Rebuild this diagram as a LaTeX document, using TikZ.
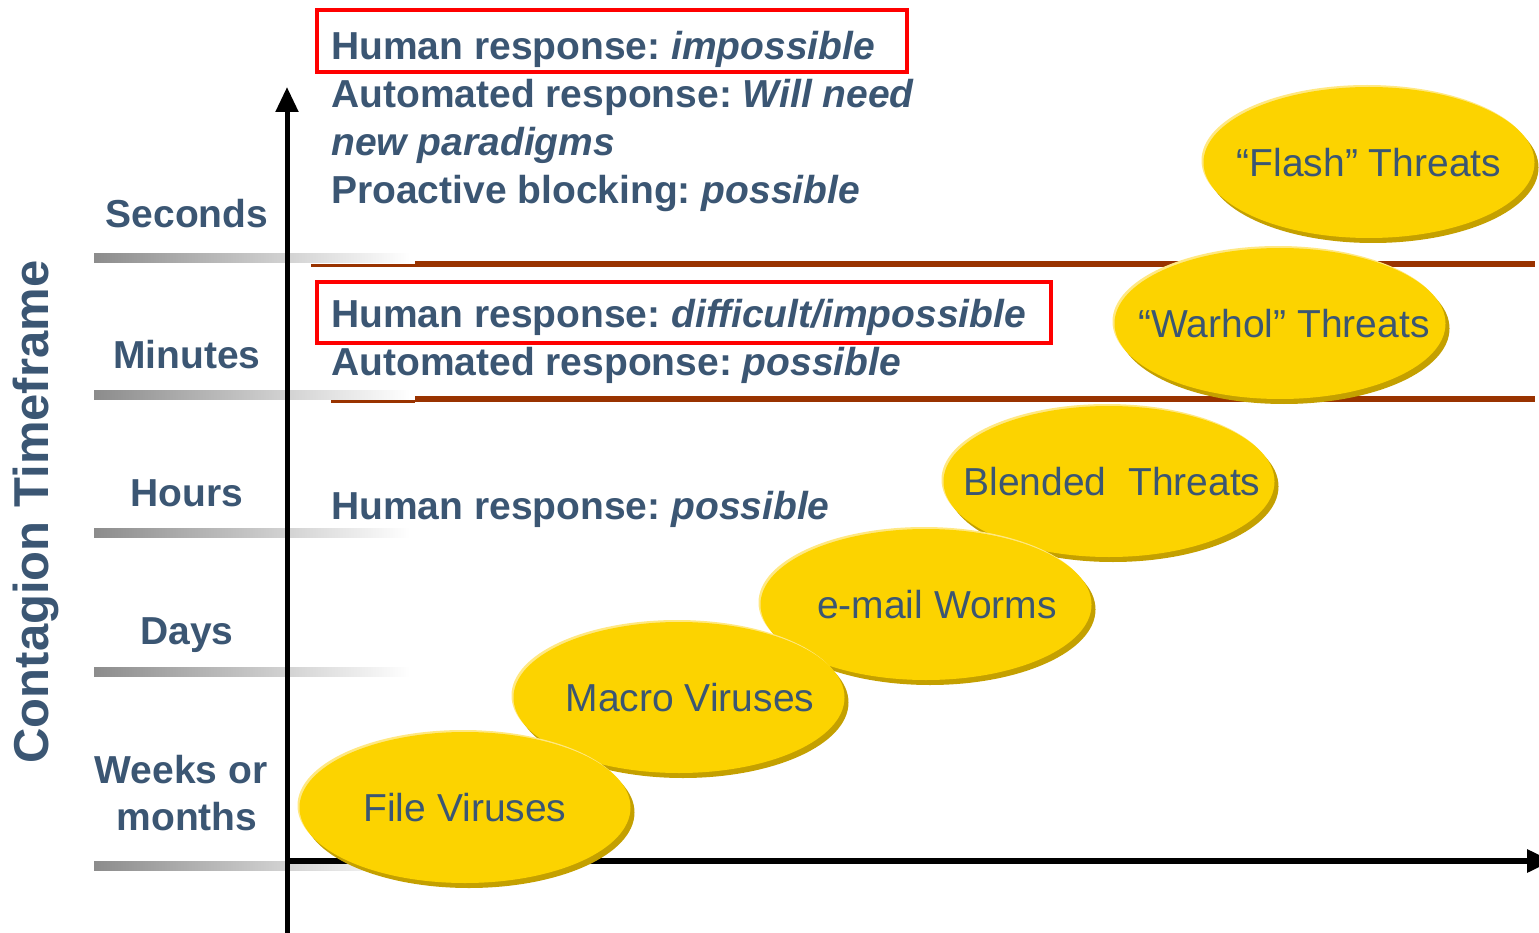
\documentclass[tikz,border=0pt]{standalone}
\usepackage{fontspec}
\setmainfont{Liberation Sans}
\usetikzlibrary{shapes.geometric,arrows.meta}
\definecolor{txtblue}{RGB}{59,86,115}
\definecolor{goldfill}{RGB}{252,211,0}
\definecolor{goldrim}{RGB}{196,160,0}
\definecolor{goldhalo}{RGB}{255,232,130}
\definecolor{brownline}{RGB}{153,51,0}
\definecolor{greyline}{RGB}{140,140,140}
\tikzset{
  threat/.style={ellipse, minimum width=331, minimum height=151, inner sep=0pt,
    fill=goldfill, text=txtblue, font=\fontsize{39}{46}\selectfont,
    preaction={fill=goldhalo, transform canvas={shift={(-2pt,2pt)}}},
    preaction={fill=goldrim, transform canvas={shift={(4pt,-5pt)}}}},
  rowlabel/.style={anchor=base, inner sep=0pt, text=txtblue, font=\fontsize{39}{46}\selectfont\bfseries},
  infotext/.style={anchor=base west, inner sep=0pt, text=txtblue, font=\fontsize{39}{46}\selectfont\bfseries},
  redbox/.style={draw=red, line width=4pt, inner sep=0pt},
  axisline/.style={line width=5pt, -{Triangle[length=25pt,width=22pt]}},
  brownrule/.style={draw=brownline, line width=6pt},
}
\newcommand\shiftedlabel[2]{\makebox[0pt]{\hspace*{#1}#2}}
\begin{document}
\frenchspacing
\begin{tikzpicture}[x=1pt,y=1pt]
\useasboundingbox (0,0) rectangle (1539,-933);

% grey gradient rules
\foreach \yy in {258,395,533,672,866}{
  \shade[left color=greyline, right color=white] (94,-\yy+4.5) rectangle (410,-\yy-4.5);
}

% brown rules
\draw[brownrule, line width=3pt] (311,-266) -- (415,-266);
\draw[brownrule] (415,-264) -- (1535,-264);
\draw[brownrule, line width=3pt] (331,-401) -- (415,-401);
\draw[brownrule] (415,-399) -- (1535,-399);

% axes
\coordinate (ybot) at (287,-933);
\coordinate (ytop) at (287,-87);
\coordinate (xstart) at (287,-861);
\coordinate (xend) at (1552,-861);
\draw[axisline] (ybot) -- (ytop);
\draw[axisline, line width=6pt] (xstart) -- (xend);

% y-axis title
\node[rotate=90, inner sep=0pt, text=txtblue, font=\fontsize{49}{56}\selectfont\bfseries] (title) at (36,-512) {Contagion Timeframe};

% row labels
\node[rowlabel] (sec) at (187,-228) {Seconds};
\node[rowlabel] (min) at (187,-368) {Minutes};
\node[rowlabel] (hrs) at (187,-506) {Hours};
\node[rowlabel] (days) at (187,-644) {Days};
\node[rowlabel] (weeks) at (181,-783) {Weeks or};
\node[rowlabel] (months) at (187,-830) {months};

% info texts
\node[infotext] (t1) at (331,-60) {Human response: \textit{impossible}};
\node[infotext] (t2) at (331,-108) {Automated response: \textit{Will need}};
\node[infotext] (t3) at (331,-156) {\textit{new paradigms}};
\node[infotext] (t4) at (331,-204) {Proactive blocking: \textit{possible}};
\node[infotext] (t5) at (331,-327) {Human response: \textit{difficult/impossible}};
\node[infotext] (t6) at (331,-375) {Automated response: \textit{possible}};
\node[infotext] (t7) at (331,-519) {Human response: \textit{possible}};

% red boxes
\node[redbox, minimum width=590, minimum height=62] (box1) at (612,-41) {};
\node[redbox, minimum width=734, minimum height=61] (box2) at (684,-312.5) {};

% threat ellipses (top to bottom, lower ones on top)
\node[threat] (flash) at (1369,-162.5) {\shiftedlabel{0pt}{``Flash'' Threats}};
\node[threat] (warhol) at (1280,-323.5) {\shiftedlabel{8pt}{``Warhol'' Threats}};
\node[threat] (blended) at (1109,-481.5) {\shiftedlabel{6pt}{Blended\ \ Threats}};
\node[threat] (email) at (926,-604.5) {\shiftedlabel{22pt}{e-mail Worms}};
\node[threat] (macro) at (679,-697.5) {\shiftedlabel{22pt}{Macro Viruses}};
\node[threat] (file) at (465,-807.5) {\shiftedlabel{0pt}{File Viruses}};
\end{tikzpicture}
\end{document}
